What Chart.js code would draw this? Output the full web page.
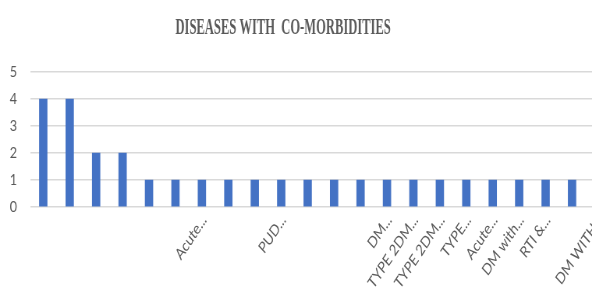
<!DOCTYPE html>
<html lang="en">
<head>
    <meta charset="UTF-8">
    <title>Diseases with Co-morbidities</title>
    <script src="https://cdn.jsdelivr.net/npm/chart.js"></script>
    <style>
        html, body { margin: 0; padding: 0; overflow: hidden; background: #fff; }
        /* the source picture is squeezed sideways, so the whole chart is too */
        #wrap { width: 786px; height: 300px; transform: scaleX(0.78); transform-origin: 0 0; }
    </style>
</head>
<body>
    <div id="wrap"><canvas id="chart" width="786" height="300"></canvas></div>

    <script>
        const TITLE = 'DISEASES WITH  CO-MORBIDITIES';
        const categories = [
            '', '', '', '', '', '', 'Acute...', '', '', 'PUD...', '',
            '', '', 'DM...', 'TYPE 2DM...', 'TYPE 2DM...', 'TYPE...', 'Acute...',
            'DM with...', 'RTI &...', '', 'DM WITH...'
        ];
        const counts = [4, 4, 2, 2, 1, 1, 1, 1, 1, 1, 1, 1, 1, 1, 1, 1, 1, 1, 1, 1, 1, 1];
        const yTicks = [0, 1, 2, 3, 4, 5];

        const grey = '#595959';

        // title in a narrow bold serif, drawn a little off centre like the original
        const titlePlugin = {
            id: 'narrowTitle',
            afterDraw(chart) {
                let ctx = chart.ctx;
                ctx.save();
                ctx.font = 'bold 23px "Liberation Serif"';
                ctx.fillStyle = grey;
                ctx.textAlign = 'center';
                ctx.textBaseline = 'alphabetic';
                ctx.translate(363, 34);
                ctx.scale(0.7, 1);
                ctx.fillText(TITLE, 0, 0);
                ctx.restore();
            }
        };

        new Chart(document.getElementById('chart').getContext('2d'), {
            type: 'bar',
            data: {
                labels: categories,
                datasets: [{
                    data: counts,
                    backgroundColor: '#4472C4',
                    barThickness: 10,
                    categoryPercentage: 1
                }]
            },
            options: {
                responsive: false,
                animation: false,
                layout: { padding: { top: 72, left: 0, right: 0, bottom: 0 } },
                plugins: { legend: { display: false }, tooltip: { enabled: false } },
                scales: {
                    x: {
                        grid: { display: false, drawTicks: false },
                        border: { display: false },
                        ticks: {
                            autoSkip: false,
                            maxRotation: 50,
                            minRotation: 50,
                            padding: 4,
                            labelOffset: 3,
                            color: grey,
                            font: { family: 'Lato', size: 16 }
                        },
                        afterFit(scale) { scale.height = 93; }
                    },
                    y: {
                        min: yTicks[0],
                        max: yTicks[yTicks.length - 1],
                        grid: { color: '#d9d9d9', lineWidth: 1.5, drawTicks: false },
                        border: { display: false },
                        ticks: {
                            stepSize: 1,
                            padding: 16.7,
                            color: grey,
                            font: { family: 'Lato', size: 16 }
                        },
                        afterFit(scale) { scale.width = 38.5; }
                    }
                }
            },
            plugins: [titlePlugin]
        });
    </script>
</body>
</html>
